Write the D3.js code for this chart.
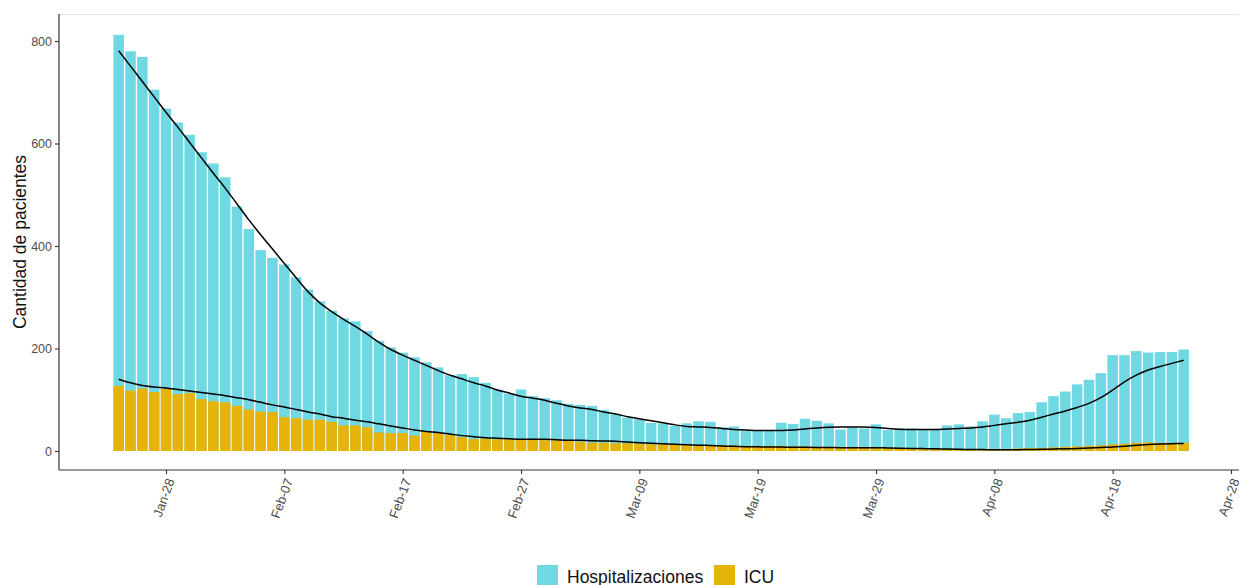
<!DOCTYPE html>
<html>
<head>
<meta charset="utf-8">
<script src="https://cdn.jsdelivr.net/npm/d3@7"></script>
<style>
  body { margin: 0; background: #fff; font-family: Arial, "Liberation Sans", sans-serif; }
</style>
</head>
<body>
<div id="chart"></div>
<script>
// daily counts from 2021-01-24 to 2021-04-24
const startDate = "2021-01-24";
const hospitalizaciones = [
  812, 780, 769, 705, 668, 641, 617, 583, 561, 534,
  477, 433, 392, 377, 364, 339, 315, 292, 274, 259,
  253, 234, 215, 202, 192, 183, 173, 163, 148, 150,
  144, 133, 120, 112, 120, 107, 103, 99, 92, 90,
  88, 80, 72, 65, 62, 55, 54, 49, 54, 58,
  57, 46, 48, 40, 40, 39, 55, 53, 63, 59,
  54, 42, 46, 44, 52, 41, 44, 44, 42, 42,
  50, 52, 48, 58, 71, 64, 74, 76, 95, 107,
  116, 130, 139, 152, 187, 187, 195, 192, 193, 193,
  198
];
const icu = [
  127, 118, 122, 115, 121, 111, 113, 101, 97, 95,
  88, 81, 77, 76, 66, 64, 61, 61, 57, 50,
  50, 46, 36, 35, 35, 30, 39, 35, 31, 27,
  23, 24, 23, 23, 23, 22, 21, 21, 21, 18,
  16, 16, 15, 15, 14, 13, 13, 12, 12, 12,
  11, 11, 11, 10, 10, 10, 10, 9, 9, 8,
  8, 7, 7, 7, 6, 6, 6, 5, 5, 4,
  4, 3, 3, 3, 3, 4, 5, 6, 6, 7,
  8, 9, 10, 11, 13, 14, 16, 17, 16, 16,
  16
];
// smoothed trend lines
const hospSmooth = [
  781, 751, 721, 691, 661, 632, 602, 572, 542, 513,
  482, 451, 422, 394, 366, 338, 311, 289, 272, 257,
  243, 228, 212, 198, 187, 177, 167, 157, 148, 141,
  133, 127, 119, 113, 107, 103, 99, 93, 88, 84,
  81, 76, 72, 67, 63, 59, 55, 51, 48, 47,
  46, 44, 42, 41, 40, 40, 40, 41, 43, 45,
  46.5, 47, 47, 47, 46, 44, 42.5, 42, 42, 42,
  43, 44, 45, 47, 50, 53, 56, 60, 66, 72,
  78, 85, 93, 104, 119, 135, 148, 158, 165, 171,
  177
];
const icuSmooth = [
  140, 133, 128, 125, 123, 120, 117, 114, 111, 108,
  104, 100, 95, 90, 86, 81, 76, 72, 67, 64,
  60, 57, 53, 49, 45, 41, 38, 36, 33, 30,
  28, 26, 25, 24, 23, 23, 23, 22, 21, 21,
  20, 19.5, 19, 17.6, 16.3, 15.3, 14.3, 13.3, 12.4, 11.4,
  10.7, 9.8, 9.1, 8.5, 8.1, 7.8, 7.6, 7.2, 7.1, 6.8,
  6.7, 6.5, 6.5, 6.5, 6.2, 6, 5.5, 5, 4.7, 4.2,
  3.8, 3.3, 3, 2.7, 2.5, 2.5, 2.6, 2.8, 3.2, 3.7,
  4.3, 5, 6, 7, 8, 9.5, 11, 12.5, 13.5, 14.2,
  14.8
];
const seriesNames = ["Hospitalizaciones", "ICU"];
const seriesColors = ["#70d8e3", "#e6b30b"];
const tickDates = ["2021-01-28", "2021-02-07", "2021-02-17", "2021-02-27", "2021-03-09",
                   "2021-03-19", "2021-03-29", "2021-04-08", "2021-04-18", "2021-04-28"];
const yTicks = [0, 200, 400, 600, 800];
const yTitle = "Cantidad de pacientes";

const width = 1239, height = 585;
const parse = d3.timeParse("%Y-%m-%d");
const fmt = d3.timeFormat("%b-%d");
const t0 = parse(startDate);
const dates = hospitalizaciones.map((d, i) => d3.timeDay.offset(t0, i));

// panel
const panel = { left: 59, right: 1239, top: 14, bottom: 470 };

const x = d3.scaleTime()
  .domain([parse(tickDates[0]), parse(tickDates[tickDates.length - 1])])
  .range([166, 1231]);
const y = d3.scaleLinear().domain([0, 800]).range([451, 41]);
const dayW = x(d3.timeDay.offset(t0, 1)) - x(t0);
const barW = dayW - 1.3;

const svg = d3.select("#chart").append("svg")
  .attr("width", width)
  .attr("height", height);

// faint top border
svg.append("line")
  .attr("x1", panel.left).attr("x2", panel.right)
  .attr("y1", panel.top + 0.5).attr("y2", panel.top + 0.5)
  .attr("stroke", "#e6e6e6").attr("stroke-width", 1);

const plot = svg.append("g");

// bars: hospitalizations behind, ICU in front
[hospitalizaciones, icu].forEach((vals, s) => {
  plot.append("g").selectAll("rect")
    .data(vals)
    .enter().append("rect")
    .attr("x", (d, i) => x(dates[i]) - barW / 2)
    .attr("width", barW)
    .attr("y", d => y(d))
    .attr("height", d => y(0) - y(d))
    .attr("fill", seriesColors[s]);
});

// smoothed lines
const line = d3.line()
  .x((d, i) => x(dates[i]))
  .y(d => y(d))
  .curve(d3.curveCatmullRom);
[hospSmooth, icuSmooth].forEach(vals => {
  plot.append("path")
    .datum(vals)
    .attr("d", line)
    .attr("fill", "none")
    .attr("stroke", "#000")
    .attr("stroke-width", 1.5);
});

// y axis
const yAxis = svg.append("g")
  .attr("transform", "translate(" + panel.left + ",0)")
  .call(d3.axisLeft(y).tickValues(yTicks).tickSize(4).tickPadding(3));
yAxis.select(".domain").remove();
yAxis.append("line")
  .attr("y1", panel.top).attr("y2", panel.bottom)
  .attr("stroke", "#333").attr("stroke-width", 1.2);
yAxis.selectAll(".tick line").attr("stroke", "#333").attr("stroke-width", 1.1);
yAxis.selectAll(".tick text")
  .attr("fill", "#4d4d4d")
  .style("font-size", "12.5px")
  .style("font-family", "Arial, 'Liberation Sans', sans-serif");

// x axis
const xAxis = svg.append("g")
  .attr("transform", "translate(0," + panel.bottom + ")")
  .call(d3.axisBottom(x).tickValues(tickDates.map(parse)).tickFormat(fmt).tickSize(4).tickPadding(3));
xAxis.select(".domain").remove();
xAxis.append("line")
  .attr("x1", panel.left).attr("x2", panel.right)
  .attr("stroke", "#333").attr("stroke-width", 1.2);
xAxis.selectAll(".tick line").attr("stroke", "#333").attr("stroke-width", 1.1);
xAxis.selectAll(".tick text")
  .attr("fill", "#4d4d4d")
  .attr("text-anchor", "end")
  .attr("dy", "0.35em")
  .attr("transform", "translate(4,9) rotate(-70)")
  .attr("y", 0)
  .attr("x", 0)
  .style("font-size", "13px")
  .style("font-family", "Arial, 'Liberation Sans', sans-serif");

// y title
svg.append("text")
  .attr("transform", "translate(26," + (panel.top + panel.bottom) / 2 + ") rotate(-90)")
  .attr("text-anchor", "middle")
  .style("font-size", "17.5px")
  .attr("fill", "#111")
  .text(yTitle);

// legend
const legend = svg.append("g").attr("transform", "translate(537,565)");
const legX = [0, 177];
seriesNames.forEach((name, i) => {
  const g = legend.append("g").attr("transform", "translate(" + legX[i] + ",0)");
  g.append("rect").attr("width", 21).attr("height", 21).attr("fill", seriesColors[i]);
  g.append("text")
    .attr("x", 30).attr("y", 18)
    .style("font-size", "17.5px")
    .attr("fill", "#111")
    .text(name);
});
</script>
</body>
</html>
